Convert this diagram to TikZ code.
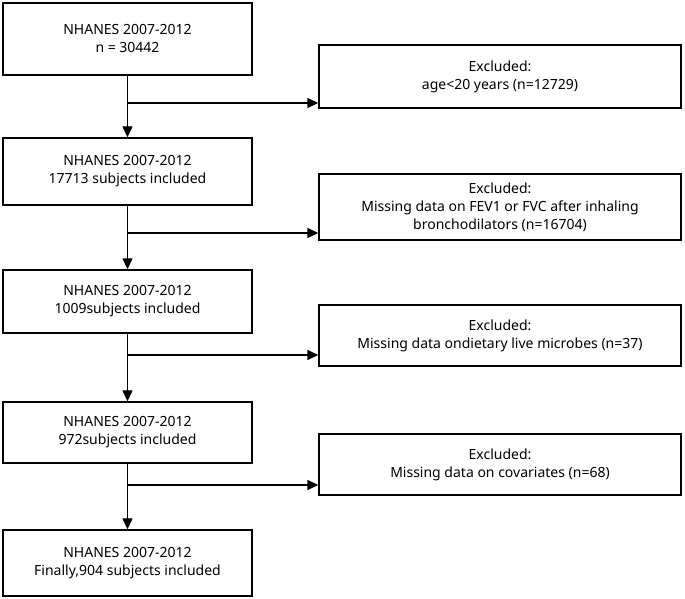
\documentclass[tikz,border=0pt]{standalone}
\usepackage{fontspec}
\setmainfont{Noto Sans}
\usetikzlibrary{arrows.meta,positioning}
\tikzset{
every picture/.style={
line width=1.4pt
}}
\tikzset{
  stage/.style={draw, align=center, minimum width=249pt, font=\fontsize{14}{18}\selectfont},
  excl/.style={draw, align=center, minimum width=362pt, font=\fontsize{14}{18}\selectfont},
  flow/.style={-{Triangle[length=11pt,width=10pt]}}
}

\begin{document}
\begin{tikzpicture}[x=1pt,y=1pt]
  \useasboundingbox (0,0) rectangle (685,599);

  \node [stage, minimum height=72pt] (s1) at (127.5,560) {NHANES 2007-2012\\n = 30442};
  \node [stage, minimum height=67pt] (s2) at (127.5,427.5) {NHANES 2007-2012\\17713 subjects included};
  \node [stage, minimum height=63pt] (s3) at (127.5,297.5) {NHANES 2007-2012\\1009subjects included};
  \node [stage, minimum height=61pt] (s4) at (127.5,166.5) {NHANES 2007-2012\\972subjects included};
  \node [stage, minimum height=66pt] (s5) at (127.5,36) {NHANES 2007-2012\\Finally,904 subjects included};

  \node [excl, minimum height=63pt] (e1) at (500,522.5) {Excluded:\\age\textless20 years (n=12729)};
  \node [excl, minimum height=66pt] (e2) at (500,392) {Excluded:\\Missing data on FEV1 or FVC after inhaling\\bronchodilators (n=16704)};
  \node [excl, minimum height=61pt] (e3) at (500,263.5) {Excluded:\\Missing data ondietary live microbes (n=37)};
  \node [excl, minimum height=61pt] (e4) at (500,134.5) {Excluded:\\Missing data on covariates (n=68)};

  \coordinate (b1) at (127.5,496);
  \coordinate (b2) at (127.5,366);
  \coordinate (b3) at (127.5,244);
  \coordinate (b4) at (127.5,114);

  \draw [flow] (s1) -- (s2);
  \draw [flow] (s2) -- (s3);
  \draw [flow] (s3) -- (s4);
  \draw [flow] (s4) -- (s5);

  \draw [flow] (b1) -- (b1 -| e1.west);
  \draw [flow] (b2) -- (b2 -| e2.west);
  \draw [flow] (b3) -- (b3 -| e3.west);
  \draw [flow] (b4) -- (b4 -| e4.west);
\end{tikzpicture}
\end{document}
